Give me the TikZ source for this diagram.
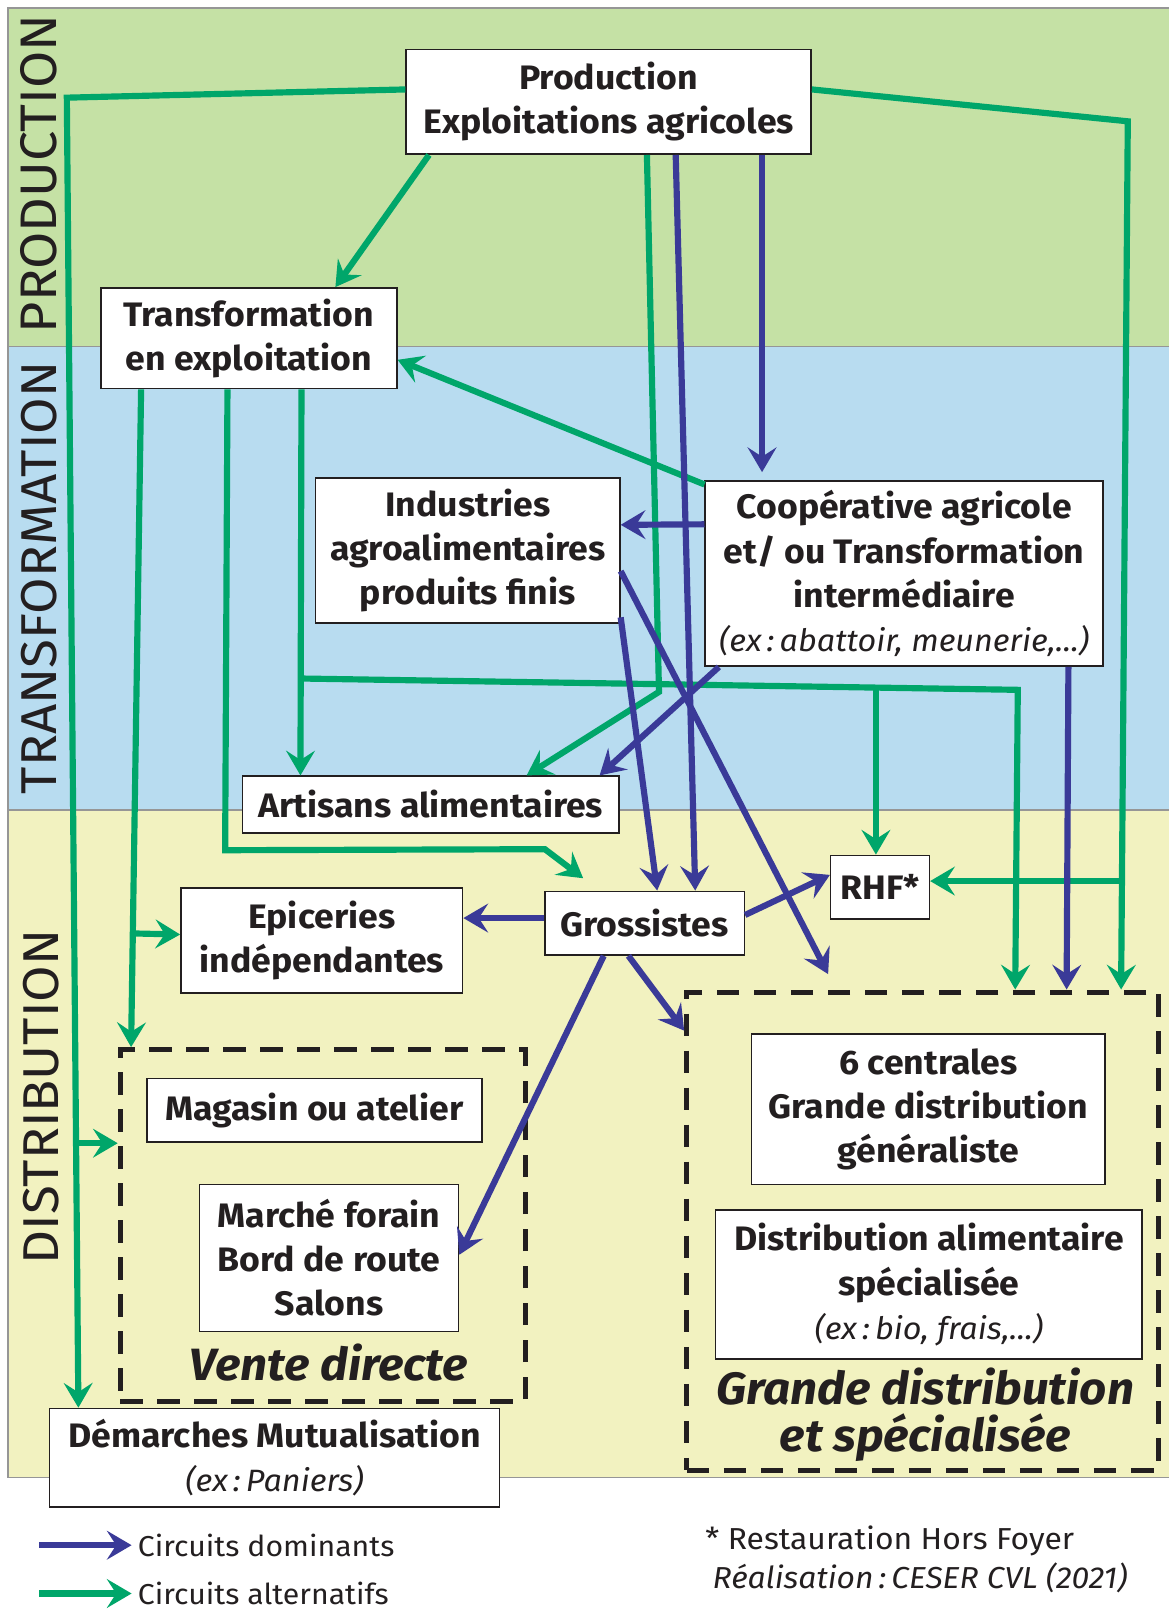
\documentclass[tikz,border=0pt]{standalone}
\usepackage{fontspec}
\setmainfont{Fira Sans}[FakeStretch=1.05]
\usetikzlibrary{arrows.meta}
\definecolor{galt}{RGB}{0,166,106}
\definecolor{bdom}{RGB}{58,58,152}
\definecolor{bandg}{RGB}{197,225,165}
\definecolor{bandb}{RGB}{184,220,240}
\definecolor{bandy}{RGB}{242,242,192}
\definecolor{frame}{RGB}{150,150,150}
\definecolor{ink}{RGB}{35,31,32}
\newcommand{\exnote}[1]{{\mdseries\itshape\fontsize{30}{43}\selectfont #1}}
\begin{document}
\begin{tikzpicture}[x=1pt,y=-1pt,
  box/.style={draw=ink,line width=1.5pt,fill=white,inner sep=0pt,align=center,text=ink,
    font=\bfseries\fontsize{33}{43}\selectfont},
  dbox/.style={draw=ink,line width=5pt,dash pattern=on 22pt off 14pt,inner sep=0pt},
  arr/.style={line width=6pt,-{Stealth[length=24pt,width=28pt,inset=9pt]}},
  galtarr/.style={arr,draw=galt},
  bdomarr/.style={arr,draw=bdom},
  band/.style={rotate=90,text=ink,font=\fontsize{49}{49}\selectfont},
  lbl/.style={text=ink,font=\bfseries\itshape\fontsize{44}{46}\selectfont,align=center,inner sep=0pt},
  note/.style={text=ink,font=\fontsize{28}{34}\selectfont,inner sep=0pt,anchor=west}
]
\useasboundingbox (0,0) rectangle (1137,1568);
\fill[white] (0,0) rectangle (1137,1568);
% bands
\fill[bandg] (8,8) rectangle (1137,337);
\fill[bandb] (8,337) rectangle (1137,788);
\fill[bandy] (8,788) rectangle (1137,1437);
\draw[frame,line width=1.5pt] (1137,8) -- (8,8) -- (8,1437) -- (1137,1437);
\draw[frame,line width=1.5pt] (8,337) -- (1137,337);
\draw[frame,line width=1.5pt] (8,788) -- (1137,788);
\node[band,font=\fontsize{50}{50}\selectfont] (lprod) at (38,169) {PRODUCTION};
\node[band] (ltrans) at (38,562) {TRANSFORMATION};
\node[band] (ldist) at (40,1067) {DISTRIBUTION};

% dashed groups
\node[dbox,minimum width=394pt,minimum height=342pt] (vente) at (314,1192) {};
\node[dbox,minimum width=459pt,minimum height=465pt] (gd) at (897.5,1197.5) {};
\node[lbl] (lvente) at (320,1325) {Vente directe};
\node[lbl] (lgd) at (900,1376) {Grande distribution\\et spécialisée};

% boxes
\node[box,minimum width=394pt,minimum height=102pt] (prod) at (592,99) {Production\\Exploitations agricoles};
\node[box,minimum width=288pt,minimum height=98pt] (transf) at (242,329) {Transformation\\en exploitation};
\node[box,minimum width=296pt,minimum height=141pt] (indus) at (455,535.5) {Industries\\agroalimentaires\\produits finis};
\node[box,minimum width=387pt,minimum height=180pt] (coop) at (879.5,558) {Coopérative agricole\\et/ ou Transformation\\intermédiaire\\\exnote{(ex\,:\,abattoir, meunerie,...)}};
\node[box,minimum width=366pt,minimum height=55pt] (artis) at (419,782.5) {Artisans alimentaires};
\node[box,minimum width=96pt,minimum height=62pt] (rhf) at (856,863) {RHF*};
\node[box,minimum width=194pt,minimum height=62pt] (gross) at (627,898) {Grossistes};
\node[box,minimum width=274pt,minimum height=102pt] (epic) at (313,915) {Epiceries\\indépendantes};
\node[box,minimum width=326pt,minimum height=62pt] (mag) at (306,1080) {Magasin ou atelier};
\node[box,minimum width=252pt,minimum height=143pt] (marche) at (320,1223.5) {Marché forain\\Bord de route\\Salons};
\node[box,minimum width=438pt,minimum height=96pt] (demar) at (267,1418) {Démarches Mutualisation\\\exnote{(ex\,:\,Paniers)}};
\node[box,minimum width=344pt,minimum height=146pt] (centr) at (903,1079) {6 centrales\\Grande distribution\\généraliste};
\node[box,minimum width=415pt,minimum height=145pt] (dspec) at (903.5,1249.5) {Distribution alimentaire\\spécialisée\\\exnote{(ex\,:\,bio, frais,...)}};

% corner / branch points
\coordinate (c1) at (65,95);
\coordinate (c2) at (1097,118);
\coordinate (c3) at (641,673);
\coordinate (c4) at (219,827);
\coordinate (c5) at (530,826);
\coordinate (c6) at (990,671);
\coordinate (b1) at (74,1112);
\coordinate (b2) at (1093.5,857);
\coordinate (b3) at (131.5,908);
\coordinate (b4) at (293.5,660);
\coordinate (b5) at (852,669);

% green (alternative) circuits
\draw[galtarr] ([yshift=12pt]prod.west) -- (c1) -- ([xshift=29pt]demar.north west);
\draw[galtarr] (b1) -- ([yshift=80pt]vente.west);
\draw[galtarr] ([xshift=23pt]prod.south west) -- ([xshift=229pt]transf.north west);
\draw[galtarr] ([yshift=12pt]prod.east) -- (c2) -- ([xshift=425pt]gd.north west);
\draw[galtarr] (b2) -- ([yshift=6pt]rhf.east);
\draw[galtarr] ([xshift=235pt]prod.south west) -- (c3) -- ([xshift=277pt]artis.north west);
\draw[galtarr] ([xshift=40pt]transf.south west) -- ([xshift=13pt]vente.north west);
\draw[galtarr] (b3) -- ([yshift=6pt]epic.west);
\draw[galtarr] ([xshift=124pt]transf.south west) -- (c4) -- (c5) -- ([xshift=38pt,yshift=12pt]gross.north west);
\draw[galtarr] ([xshift=196pt]transf.south west) -- ([xshift=57pt]artis.north west);
\draw[galtarr] (b4) -- (c6) -- ([xshift=322pt]gd.north west);
\draw[galtarr] (b5) -- ([xshift=-4pt]rhf.north);
\draw[galtarr] ([yshift=-4pt]coop.north west) -- ([yshift=-21pt]transf.east);

% blue (dominant) circuits
\draw[bdomarr] ([xshift=263pt]prod.south west) -- ([xshift=147pt]gross.north west);
\draw[bdomarr,shorten >=8pt] ([xshift=347pt]prod.south west) -- ([xshift=56pt]coop.north west);
\draw[bdomarr] ([yshift=48pt]coop.west) -- ([yshift=25pt]indus.east);
\draw[bdomarr] ([yshift=-65pt]indus.east) -- ([xshift=110pt]gross.north west);
\draw[bdomarr] ([yshift=-20pt]indus.east) -- ([xshift=140pt,yshift=15pt]gd.north west);
\draw[bdomarr] ([xshift=14pt]coop.south west) -- ([xshift=348pt]artis.north west);
\draw[bdomarr] ([xshift=354pt]coop.south west) -- ([xshift=372pt]gd.north west);
\draw[bdomarr] ([yshift=5pt]gross.west) -- ([yshift=22pt]epic.east);
\draw[bdomarr] ([yshift=8pt]gross.east) -- ([yshift=12pt]rhf.west);
\draw[bdomarr] ([xshift=82pt]gross.south west) -- ([yshift=195pt]gd.west);
\draw[bdomarr] ([xshift=58pt]gross.south west) -- ([yshift=3pt]marche.east);

% legend
\coordinate (l1s) at (38,1503);
\coordinate (l1e) at (128,1503);
\coordinate (l2s) at (38,1550);
\coordinate (l2e) at (128,1550);
\draw[bdomarr] (l1s) -- (l1e);
\draw[galtarr] (l2s) -- (l2e);
\node[note] (ldom) at (134,1503) {Circuits dominants};
\node[note] (lalt) at (134,1550) {Circuits alternatifs};
\node[note,font=\fontsize{29.5}{34}\selectfont] (fn1) at (686,1499) {* Restauration Hors Foyer};
\node[note,font=\itshape\fontsize{29.5}{34}\selectfont] (fn2) at (693,1535) {Réalisation\,:\,CESER CVL (2021)};
\end{tikzpicture}
\end{document}
